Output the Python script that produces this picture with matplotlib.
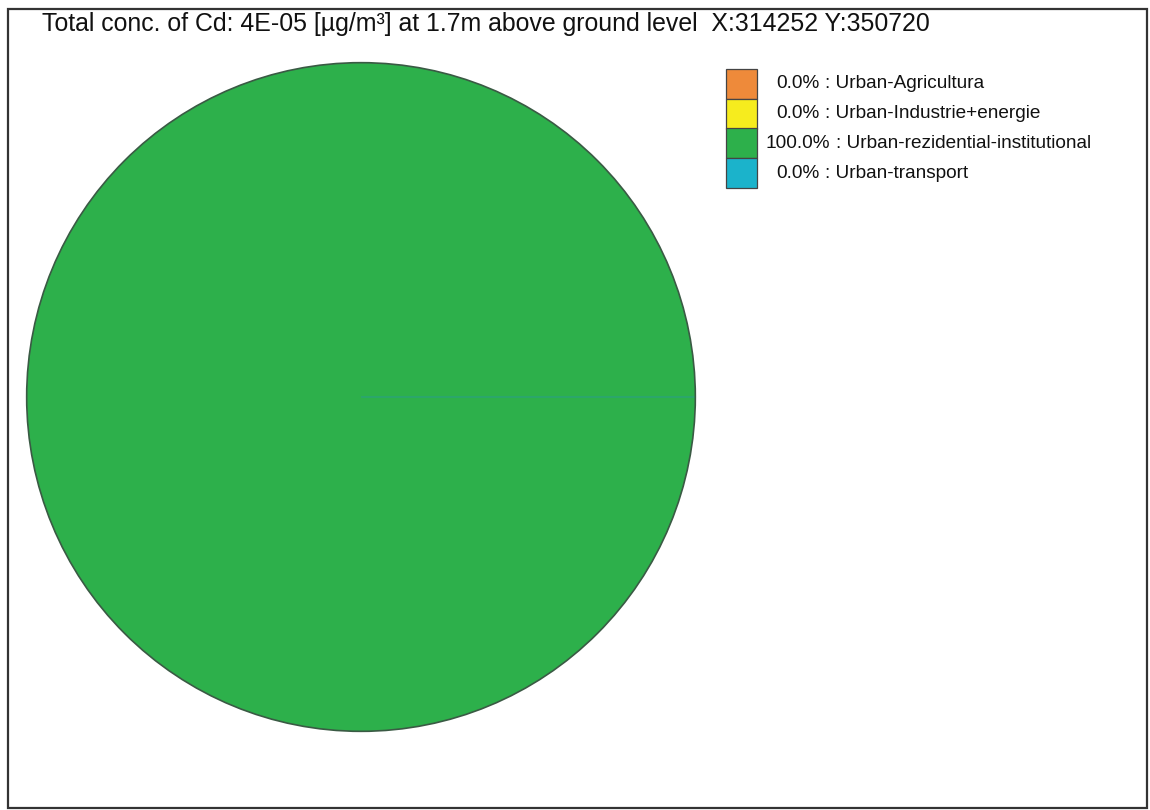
import matplotlib
matplotlib.use("Agg")
import matplotlib.pyplot as plt
from matplotlib.patches import Rectangle, Circle

plt.rcParams['font.family'] = ['Liberation Sans', 'DejaVu Sans']

# данные диаграммы
sources = ["Urban-Agricultura", "Urban-Industrie+energie",
           "Urban-rezidential-institutional", "Urban-transport"]
shares = [0.0, 0.0, 100.0, 0.0]
colors = ["#EE8A3A", "#F6EC1E", "#2DB04B", "#1BB3CB"]
title = "Total conc. of Cd: 4E-05 [µg/m³] at 1.7m above ground level  X:314252 Y:350720"

W, H = 1150, 810
fig = plt.figure(figsize=(W / 100, H / 100), dpi=100)

# рамка вокруг всего рисунка
fig.patches.append(Rectangle((8 / W, 1 - 808 / H), 1139 / W, 799 / H,
                             transform=fig.transFigure, fill=False,
                             edgecolor="#333333", linewidth=1.6))

fig.text(42 / W, 1 - 24 / H, title, fontsize=17.9, va="center", ha="left",
         color="#111111")

# круговая диаграмма
ax = fig.add_axes([25 / W, 1 - 733 / H, 672 / W, 672 / H])
wedges, _ = ax.pie(shares, colors=colors, startangle=0, counterclock=True,
                   wedgeprops=dict(linewidth=0))
for w, s in zip(wedges, shares):
    if s == 0:
        # нулевые секторы дают тонкую радиальную линию
        w.set_edgecolor("#2a9f86")
        w.set_linewidth(0.8)
ax.add_patch(Circle((0, 0), 1, fill=False, edgecolor="#3a5a44", linewidth=1.2))
ax.set_xlim(-1.005, 1.005)
ax.set_ylim(-1.005, 1.005)
ax.set_aspect("equal")
ax.axis("off")

# легенда: цветная полоса + подписи
lx, ly_top, box_w, row_h = 726, 69, 31, 29.75
for i, (c, s, src) in enumerate(zip(colors, shares, sources)):
    y0 = ly_top + i * row_h
    fig.patches.append(Rectangle((lx / W, 1 - (y0 + row_h) / H), box_w / W, row_h / H,
                                 transform=fig.transFigure, facecolor=c,
                                 edgecolor="#444444", linewidth=0.9))
    pct = fig.text(798 / W, 1 - (y0 + row_h / 2) / H, f"{s:.1f}%",
                   fontsize=13.7, ha="center", va="center", color="#111111")
    ax.annotate(f": {src}", xy=(1, 0.5), xycoords=pct, xytext=(4, 0),
                textcoords="offset points", fontsize=13.7, ha="left",
                va="center", color="#111111", annotation_clip=False)

fig.savefig("out.png", dpi=100)
